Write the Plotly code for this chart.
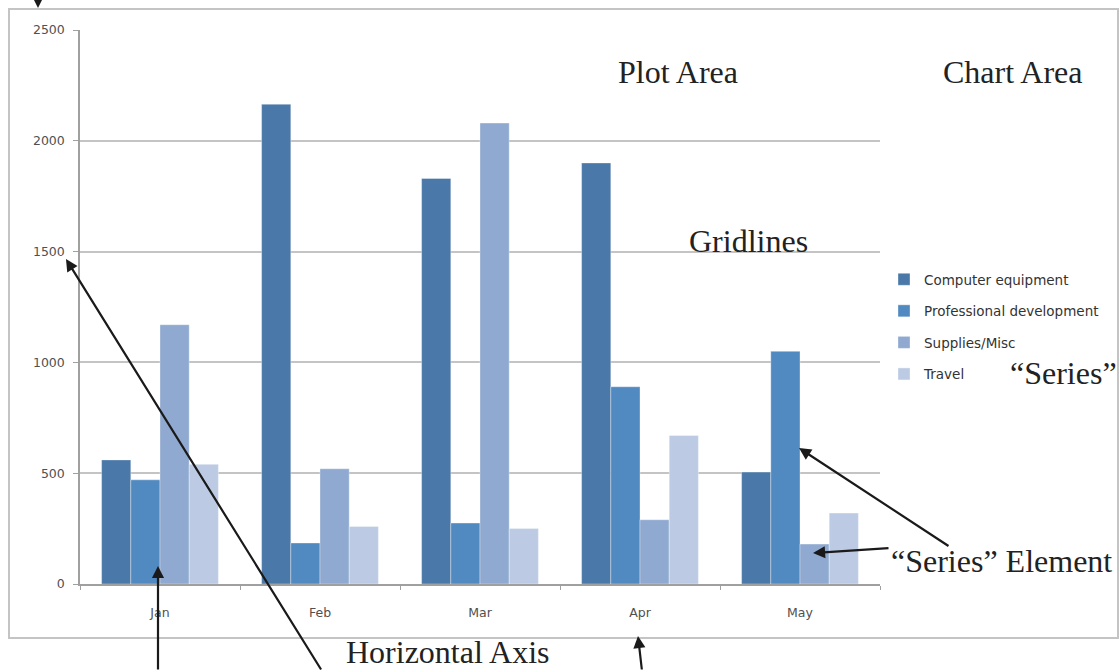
import plotly.graph_objects as go

# Monthly spending by category
months = ["Jan", "Feb", "Mar", "Apr", "May"]
computer_equipment = [560, 2165, 1830, 1900, 505]
professional_development = [470, 185, 275, 890, 1050]
supplies_misc = [1170, 520, 2080, 290, 180]
travel = [540, 260, 250, 670, 320]

series_names = ["Computer equipment", "Professional development", "Supplies/Misc", "Travel"]
series_values = [computer_equipment, professional_development, supplies_misc, travel]
series_colors = ["#4a78a8", "#5189c1", "#8fa9d0", "#bccbe3"]

y_ticks = [0, 500, 1000, 1500, 2000, 2500]

W, H = 1119, 671
L, R, T, B = 80, 239, 30, 87
PW, PH = W - L - R, H - T - B


def px_x(px):
    return (px - L) / PW


def px_y(py):
    return (H - B - py) / PH


fig = go.Figure()
for i, (name, vals, col) in enumerate(zip(series_names, series_values, series_colors)):
    fig.add_trace(go.Bar(
        x=months, y=vals, name=name, legendgroup=name,
        marker=dict(color=col, line=dict(color="rgba(255,255,255,0.35)", width=1)),
    ))

label_font = dict(family="Liberation Serif", size=32, color="#222222")
ink = "#1a1a1a"

annotations = [
    dict(text="Plot Area", x=px_x(678), y=px_y(72)),
    dict(text="Chart Area", x=px_x(1013), y=px_y(72)),
    dict(text="Gridlines", x=px_x(748), y=px_y(241)),
    dict(text="Horizontal Axis", x=px_x(448), y=px_y(652)),
    dict(text="\u201cSeries\u201d", x=px_x(1008), y=px_y(373), xanchor="left"),
    dict(text="\u201cSeries\u201d Element", x=px_x(889), y=px_y(561), xanchor="left"),
]
for a in annotations:
    a.setdefault("xanchor", "center")
    fig.add_annotation(xref="paper", yref="paper", showarrow=False,
                       yanchor="middle", font=label_font, **a)

# pointer arrows: (tip_x, tip_y, dx_to_tail, dy_to_tail) in pixels
arrows = [
    (38, 8, 0, -40),
    (66, 259, 256, 421),
    (158, 566, 0, 114),
    (638, 636, 4, 44),
    (799, 448, 151, 99),
    (813, 553, 77, -5),
]
for tx, ty, dx, dy in arrows:
    fig.add_annotation(xref="paper", yref="paper", x=px_x(tx), y=px_y(ty),
                       ax=dx, ay=dy, text="", showarrow=True,
                       arrowhead=2, arrowsize=1.1, arrowwidth=2.2,
                       arrowcolor=ink, standoff=0)

# chart area frame
fig.add_shape(type="rect", xref="paper", yref="paper",
              x0=px_x(9), x1=px_x(1118), y0=px_y(638), y1=px_y(9),
              line=dict(color="#c4c4c4", width=2), fillcolor="rgba(0,0,0,0)",
              layer="below")

tick_font = dict(family="DejaVu Sans", size=12.5, color="#505050")

fig.update_layout(
    width=W, height=H,
    margin=dict(l=L, r=R, t=T, b=B, pad=0),
    paper_bgcolor="white", plot_bgcolor="white",
    barmode="group", bargap=0.27, bargroupgap=0,
    showlegend=True,
    legend=dict(
        x=px_x(884), y=px_y(264), xanchor="left", yanchor="top",
        font=dict(family="DejaVu Sans", size=13.5, color="#333333"),
        traceorder="grouped", tracegroupgap=11,
        bgcolor="rgba(0,0,0,0)",
    ),
    xaxis=dict(
        type="category", showgrid=False, showline=True, linecolor="#a0a0a0",
        linewidth=1.5, ticks="outside", tickson="boundaries", ticklen=4,
        tickcolor="#a0a0a0", tickfont=tick_font, ticklabelstandoff=16,
        zeroline=False,
    ),
    yaxis=dict(
        range=[0, 2500], tickvals=y_ticks, showgrid=True, gridcolor="#c4c4c4",
        gridwidth=2, showline=True, linecolor="#a0a0a0", linewidth=1.5,
        ticks="outside", ticklen=5, tickcolor="#a0a0a0", tickfont=tick_font,
        ticklabelstandoff=6, zeroline=False,
    ),
)

fig.write_html("out.html")
